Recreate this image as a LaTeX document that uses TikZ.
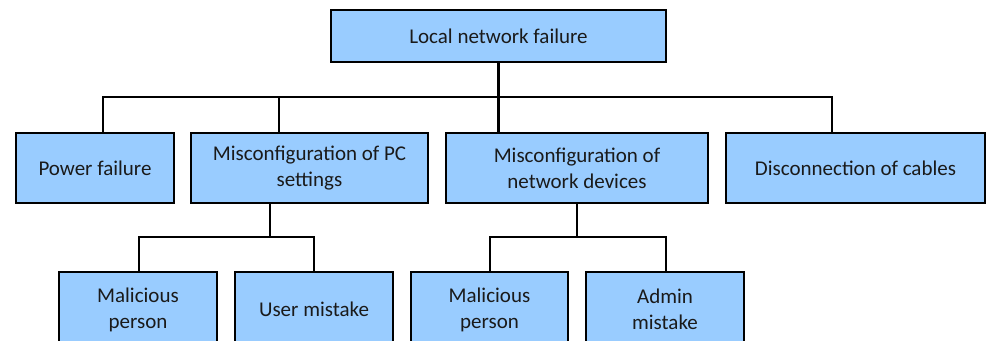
\documentclass[tikz,border=0pt]{standalone}
\usepackage{fontspec}
\setmainfont{Carlito}
\definecolor{boxfill}{HTML}{99CCFF}
\definecolor{inktext}{HTML}{1A1A1A}
\begin{document}
\begin{tikzpicture}[x=1pt,y=-1pt,
  cause/.style={draw=black, line width=1.6pt, fill=boxfill, text=inktext,
    align=center, inner sep=0pt, font=\fontsize{21}{26}\selectfont},
  link/.style={draw=black, line width=2.4pt, line join=miter, line cap=rect}]
\useasboundingbox (0,0) rectangle (987,340);

% root
\node[cause, minimum width=335pt, minimum height=52pt] (top) at (498.5,36) {Local network failure};

% first level
\node[cause, minimum width=158pt, minimum height=70pt] (power) at (95,168) {Power failure};
\node[cause, minimum width=237pt, minimum height=70pt] (pc) at (309.5,168) {Misconfiguration of PC\\settings};
\node[cause, minimum width=262pt, minimum height=70pt] (net) at (577,168) {Misconfiguration of\\network devices};
\node[cause, minimum width=259pt, minimum height=70pt] (cable) at (855.5,168) {Disconnection of cables};

% second level
\node[cause, minimum width=158pt, minimum height=75pt] (mal1) at (138,309.5) {Malicious\\person};
\node[cause, minimum width=158pt, minimum height=75pt] (user) at (314,309.5) {User mistake};
\node[cause, minimum width=157pt, minimum height=75pt] (mal2) at (489.5,309.5) {Malicious\\person};
\node[cause, minimum width=158pt, minimum height=75pt] (admin) at (665,309.5) {Admin\\mistake};

% junction points on the buses
\coordinate (pj) at (103,97);
\coordinate (kj) at (279,97);
\coordinate (cj) at (832,97);
\coordinate (sj) at (270,237);
\coordinate (m1j) at (139,237);
\coordinate (uj) at (314,237);
\coordinate (m2j) at (490,237);
\coordinate (aj) at (666,237);

% root to first level
\draw[link] (top.south) -- (top.south |- net.north);
\draw[link] (pj |- power.north) -- (pj) -- (cj) -- (cj |- cable.north);
\draw[link] (kj) -- (kj |- pc.north);

% PC settings branch
\draw[link] (sj |- pc.south) -- (sj);
\draw[link] (m1j |- mal1.north) -- (m1j) -- (uj) -- (uj |- user.north);

% network devices branch
\draw[link] (net.south) -- (net.south |- m2j);
\draw[link] (m2j |- mal2.north) -- (m2j) -- (aj) -- (aj |- admin.north);
\end{tikzpicture}
\end{document}
